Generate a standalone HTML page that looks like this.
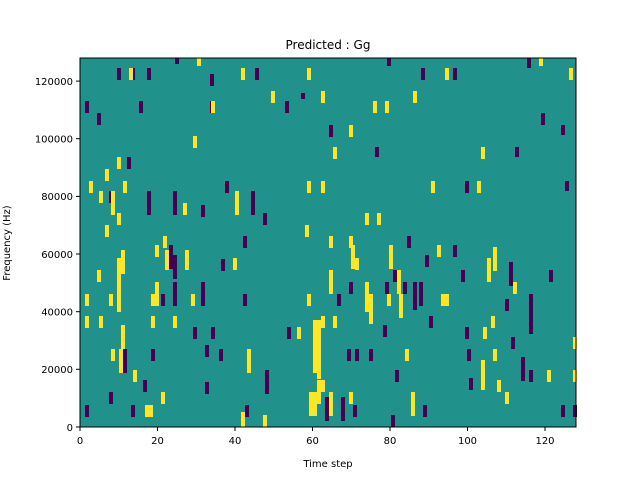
<!DOCTYPE html>
<html><head><meta charset="utf-8"><style>
body{margin:0;background:#fff;}
svg text{font-family:"DejaVu Sans","Liberation Sans",sans-serif;fill:#000;}
</style></head><body>
<svg width="640" height="480" viewBox="0 0 640 480" xmlns="http://www.w3.org/2000/svg">
<rect width="640" height="480" fill="#fff"/>
<rect x="80" y="58" width="496" height="369" fill="#21918c"/>
<g id="cells"></g>
<rect x="80" y="58" width="496" height="369" fill="none" stroke="#000" stroke-width="1"/>
<g font-size="10" stroke="#000">
<line x1="80" y1="427" x2="80" y2="431"/><line x1="157.5" y1="427" x2="157.5" y2="431"/><line x1="235" y1="427" x2="235" y2="431"/><line x1="312.5" y1="427" x2="312.5" y2="431"/><line x1="390" y1="427" x2="390" y2="431"/><line x1="467.5" y1="427" x2="467.5" y2="431"/><line x1="545" y1="427" x2="545" y2="431"/>
<line x1="76" y1="427" x2="80" y2="427"/><line x1="76" y1="369.3" x2="80" y2="369.3"/><line x1="76" y1="311.7" x2="80" y2="311.7"/><line x1="76" y1="254" x2="80" y2="254"/><line x1="76" y1="196.4" x2="80" y2="196.4"/><line x1="76" y1="138.7" x2="80" y2="138.7"/><line x1="76" y1="81.1" x2="80" y2="81.1"/>
</g>
<g font-size="10" text-anchor="middle">
<text x="80" y="444">0</text><text x="157.5" y="444">20</text><text x="235" y="444">40</text><text x="312.5" y="444">60</text><text x="390" y="444">80</text><text x="467.5" y="444">100</text><text x="545" y="444">120</text>
</g>
<g font-size="10" text-anchor="end">
<text x="73" y="431">0</text><text x="73" y="373">20000</text><text x="73" y="315.5">40000</text><text x="73" y="258">60000</text><text x="73" y="200">80000</text><text x="73" y="142.5">100000</text><text x="73" y="85">120000</text>
</g>
<text x="328" y="467" font-size="10" text-anchor="middle">Time step</text>
<text x="0" y="0" font-size="10" text-anchor="middle" transform="translate(10,243) rotate(-90)">Frequency (Hz)</text>
<text x="328" y="49" font-size="12" text-anchor="middle">Predicted : Gg</text>
</svg>
<script>
var P=[[175,58,6],[117,68,12],[131,68,12],[147,68,12],[210,74,12],[85,101,12],[97,113,12],[139,101,12],[210,101,12],[255,68,12],[285,101,12],[301,93,6],[387,58,8],[421,68,12],[453,68,12],[527,58,10],[541,113,12],[561,125,10],[329,125,12],[375,147,10],[515,147,10],[127,157,12],[225,181,12],[251,191,24],[147,191,24],[173,191,24],[109,191,12],[201,205,12],[263,213,12],[565,181,10],[465,181,12],[407,236,12],[243,236,12],[169,245,24],[173,255,24],[221,259,12],[453,245,12],[425,255,12],[509,262,24],[461,270,12],[549,270,12],[393,270,12],[385,282,12],[419,282,24],[413,282,24],[173,282,24],[161,294,12],[201,282,24],[243,294,12],[337,294,12],[529,294,24],[529,310,24],[349,282,12],[383,325,12],[211,327,12],[287,327,12],[193,327,12],[429,316,12],[505,299,12],[465,327,12],[403,282,12],[413,300,10],[347,349,12],[355,349,12],[205,345,12],[219,349,12],[369,349,12],[467,349,12],[511,337,12],[521,357,24],[529,370,12],[123,349,24],[151,349,12],[265,370,24],[205,382,12],[143,380,12],[395,370,12],[469,378,12],[131,405,12],[245,405,12],[85,405,12],[341,397,24],[325,397,24],[353,405,12],[423,405,12],[391,415,12],[573,405,12],[561,405,12],[109,392,12]];
var Y=[[197,58,8],[129,68,12],[241,68,12],[307,68,12],[445,68,12],[539,58,8],[569,68,12],[211,101,12],[271,91,12],[321,91,12],[373,101,12],[385,101,12],[413,91,12],[349,125,12],[193,136,12],[333,147,12],[481,147,12],[117,157,12],[105,169,12],[89,181,12],[123,181,12],[307,181,12],[321,181,12],[431,181,12],[477,181,12],[99,191,12],[111,191,24],[235,191,24],[183,203,12],[117,213,12],[365,213,12],[377,213,12],[105,225,12],[305,225,12],[329,236,12],[163,236,12],[349,236,12],[155,245,12],[121,250,24],[117,258,30],[165,250,20],[185,250,20],[351,245,24],[355,258,12],[389,245,24],[437,245,12],[493,247,24],[487,258,24],[233,258,12],[97,270,12],[117,282,30],[155,282,24],[365,282,30],[397,270,24],[329,270,24],[513,282,12],[85,294,12],[109,294,12],[151,294,12],[191,294,12],[307,294,12],[369,294,30],[387,294,12],[399,294,24],[441,294,12],[121,325,24],[85,316,12],[99,316,12],[151,316,12],[173,316,12],[313,320,30],[317,320,30],[321,316,12],[333,316,12],[445,294,12],[491,316,12],[483,327,12],[297,327,12],[111,349,12],[119,349,24],[133,370,12],[247,349,24],[313,349,24],[317,349,30],[405,349,12],[493,349,12],[573,337,12],[321,380,12],[317,380,24],[309,392,24],[313,392,24],[161,392,12],[145,405,12],[149,405,12],[241,412,15],[263,415,12],[329,392,24],[349,392,12],[411,392,24],[481,360,30],[547,370,12],[573,370,12],[497,380,12],[505,392,12]];
var g=document.getElementById('cells'),s='';
P.forEach(function(r){s+='<rect x="'+r[0]+'" y="'+r[1]+'" width="4" height="'+r[2]+'" fill="#440154"/>';});
Y.forEach(function(r){s+='<rect x="'+r[0]+'" y="'+r[1]+'" width="4" height="'+r[2]+'" fill="#fde725"/>';});
g.innerHTML=s;
</script>
</body></html>
